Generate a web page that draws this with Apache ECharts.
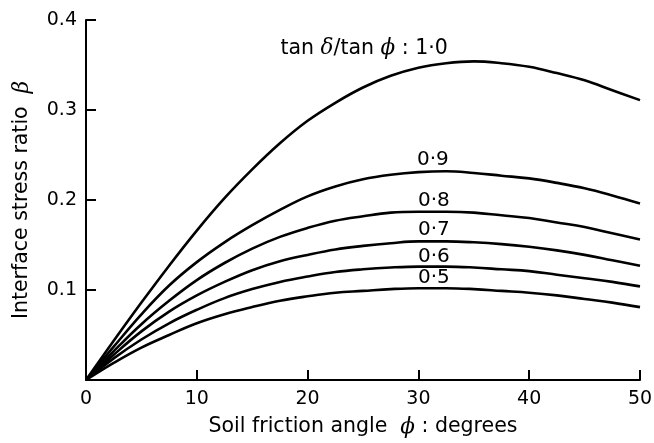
<!DOCTYPE html>
<html>
<head>
<meta charset="utf-8">
<script src="https://cdn.jsdelivr.net/npm/echarts@6/dist/echarts.min.js"></script>
<style>
  html, body { margin: 0; padding: 0; background: #fff; }
  #chart { width: 654px; height: 443px; }
</style>
</head>
<body>
<div id="chart"></div>
<script>
// Soil friction angle (degrees) at which each curve is sampled
const phi = [0, 2.5, 5, 7.5, 10, 12.5, 15, 17.5, 20, 22.5, 25, 27.5, 30, 32.5, 35, 37.5, 40, 42.5, 45, 47.5, 50];

// Interface stress ratio beta for each tan(delta)/tan(phi) value
const beta10 = [0, 0.0435, 0.086, 0.127, 0.166, 0.202, 0.234, 0.263, 0.288, 0.308, 0.325, 0.338, 0.347, 0.352, 0.354, 0.352, 0.348, 0.341, 0.333, 0.322, 0.311];
const beta09 = [0, 0.037, 0.073, 0.105, 0.131, 0.153, 0.172, 0.189, 0.204, 0.215, 0.223, 0.228, 0.231, 0.232, 0.230, 0.227, 0.224, 0.219, 0.213, 0.205, 0.196];
const beta08 = [0, 0.032, 0.062, 0.088, 0.111, 0.130, 0.146, 0.159, 0.169, 0.177, 0.182, 0.186, 0.187, 0.187, 0.186, 0.183, 0.180, 0.175, 0.170, 0.163, 0.156];
const beta07 = [0, 0.028, 0.054, 0.076, 0.094, 0.109, 0.122, 0.132, 0.139, 0.145, 0.149, 0.152, 0.154, 0.154, 0.153, 0.151, 0.148, 0.144, 0.139, 0.133, 0.127];
const beta06 = [0, 0.024, 0.045, 0.063, 0.078, 0.091, 0.101, 0.109, 0.115, 0.120, 0.123, 0.125, 0.126, 0.126, 0.125, 0.123, 0.121, 0.117, 0.113, 0.109, 0.104];
const beta05 = [0, 0.019, 0.036, 0.050, 0.063, 0.073, 0.081, 0.088, 0.093, 0.097, 0.099, 0.101, 0.102, 0.102, 0.101, 0.099, 0.097, 0.094, 0.090, 0.086, 0.081];

const curves = [beta10, beta09, beta08, beta07, beta06, beta05];
const ratioLabels = ['1·0', '0·9', '0·8', '0·7', '0·6', '0·5'];
// Anchor (phi, beta) of each curve's ratio label
const labelAnchors = [[25.1, 0.368], [31.3, 0.2444], [31.4, 0.1989], [31.4, 0.1667], [31.4, 0.1367], [31.4, 0.1133]];

const xTicks = [0, 10, 20, 30, 40, 50];
const yTicks = [0.1, 0.2, 0.3, 0.4];

const FONT = 'DejaVu Sans, Liberation Sans, Arial, sans-serif';
const GREEK = 'DejaVu Serif, Liberation Serif, serif';
const FS = 19;     // tick labels
const FT = 20.5;   // axis titles and curve labels

const richText = {
  n: { fontFamily: FONT, fontSize: FT, color: '#000' },
  g: { fontFamily: GREEK, fontStyle: 'italic', fontSize: FT + 1, color: '#000' }
};

const chart = echarts.init(document.getElementById('chart'), null, { renderer: 'canvas' });

const series = curves.map((vals, i) => ({
  type: 'line',
  data: phi.map((p, k) => [p, vals[k]]),
  smooth: 0.4,
  showSymbol: false,
  symbol: 'none',
  lineStyle: { color: '#000', width: 2.6 },
  silent: true,
  z: 3,
  markPoint: {
    symbol: 'circle',
    symbolSize: 0,
    silent: true,
    data: [{
      coord: labelAnchors[i],
      label: {
        show: true,
        position: 'inside',
        formatter: i === 0
          ? '{n|tan }{g|δ}{n|/tan }{g|ϕ}{n| : ' + ratioLabels[i] + '}'
          : ratioLabels[i],
        color: '#000',
        fontFamily: FONT,
        fontSize: 20,
        rich: richText
      }
    }]
  }
}));

chart.setOption({
  animation: false,
  backgroundColor: '#fff',
  grid: {
    left: 86, right: 14, top: 20, bottom: 63,
    containLabel: false,
    outerBoundsMode: 'none'
  },
  xAxis: {
    type: 'value',
    min: 0,
    max: 50,
    interval: 10,
    name: '{n|Soil friction angle  }{g|ϕ}{n| : degrees}',
    nameLocation: 'middle',
    nameGap: 36,
    nameTextStyle: { rich: richText },
    axisLine: { show: true, onZero: false, lineStyle: { color: '#000', width: 2 } },
    axisTick: { show: true, inside: true, length: 10, lineStyle: { color: '#000', width: 2 } },
    axisLabel: {
      margin: 10,
      color: '#000',
      fontFamily: FONT,
      fontSize: FS,
      formatter: v => (xTicks.indexOf(v) >= 0 ? String(v) : '')
    },
    splitLine: { show: false }
  },
  yAxis: {
    type: 'value',
    min: 0,
    max: 0.4,
    interval: 0.1,
    name: '{n|Interface stress ratio  }{g|β}',
    nameLocation: 'middle',
    nameGap: 53,
    nameTextStyle: { rich: richText },
    axisLine: { show: true, onZero: false, lineStyle: { color: '#000', width: 2 } },
    axisTick: { show: true, inside: true, length: 10, lineStyle: { color: '#000', width: 2 } },
    axisLabel: {
      margin: 9,
      color: '#000',
      fontFamily: FONT,
      fontSize: FS,
      formatter: v => {
        const hit = yTicks.find(t => Math.abs(t - v) < 1e-9);
        return hit !== undefined ? hit.toFixed(1) : '';
      }
    },
    splitLine: { show: false }
  },
  series: series
});
</script>
</body>
</html>
